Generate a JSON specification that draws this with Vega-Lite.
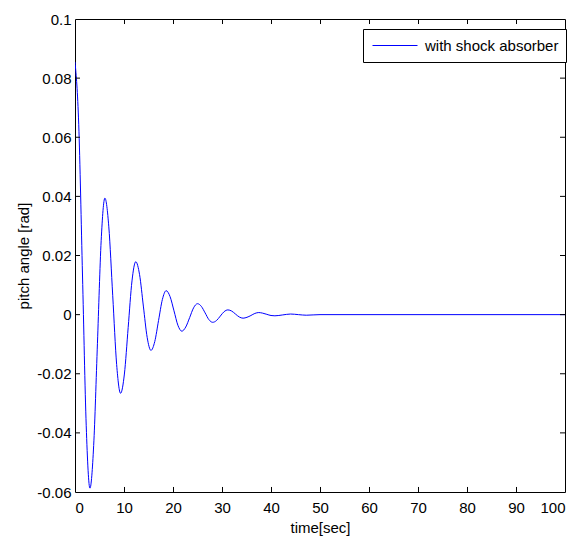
{
  "$schema": "https://vega.github.io/schema/vega-lite/v6.json",
  "width": 490,
  "height": 473,
  "autosize": "none",
  "padding": {"left": 75, "top": 19, "right": 20, "bottom": 49},
  "background": "white",
  "config": {
    "view": {"stroke": "black", "strokeWidth": 1},
    "font": "Liberation Sans",
    "axis": {
      "grid": false,
      "domain": false,
      "labelColor": "black",
      "titleColor": "black",
      "labelFont": "Liberation Sans",
      "titleFont": "Liberation Sans",
      "labelFontSize": 15,
      "titleFontSize": 15,
      "titleFontWeight": "normal"
    }
  },
  "datasets": {
    "curve": [
      {"t": 0, "v": 0.0855},
      {"t": 0.76, "v": 0.0644},
      {"t": 1.53, "v": 0.0134},
      {"t": 2.29, "v": -0.0376},
      {"t": 3.05, "v": -0.0587},
      {"t": 3.81, "v": -0.0443},
      {"t": 4.58, "v": -0.0097},
      {"t": 5.34, "v": 0.025},
      {"t": 6.1, "v": 0.0394},
      {"t": 6.9, "v": 0.0297},
      {"t": 7.7, "v": 0.0064},
      {"t": 8.5, "v": -0.0169},
      {"t": 9.3, "v": -0.0266},
      {"t": 10.08, "v": -0.0201},
      {"t": 10.85, "v": -0.0044},
      {"t": 11.63, "v": 0.0114},
      {"t": 12.4, "v": 0.0179},
      {"t": 13.18, "v": 0.0135},
      {"t": 13.95, "v": 0.0029},
      {"t": 14.73, "v": -0.0077},
      {"t": 15.5, "v": -0.0121},
      {"t": 16.28, "v": -0.0091},
      {"t": 17.05, "v": -0.002},
      {"t": 17.83, "v": 0.0051},
      {"t": 18.6, "v": 0.0081},
      {"t": 19.4, "v": 0.0061},
      {"t": 20.2, "v": 0.0013},
      {"t": 21.0, "v": -0.0036},
      {"t": 21.8, "v": -0.0056},
      {"t": 22.6, "v": -0.0042},
      {"t": 23.4, "v": -0.001},
      {"t": 24.2, "v": 0.0023},
      {"t": 25.0, "v": 0.0037},
      {"t": 25.78, "v": 0.0028},
      {"t": 26.55, "v": 0.0006},
      {"t": 27.33, "v": -0.0017},
      {"t": 28.1, "v": -0.0026},
      {"t": 28.88, "v": -0.002},
      {"t": 29.65, "v": -0.0005},
      {"t": 30.43, "v": 0.001},
      {"t": 31.2, "v": 0.0016},
      {"t": 31.98, "v": 0.0012},
      {"t": 32.75, "v": 0.0002},
      {"t": 33.53, "v": -0.0008},
      {"t": 34.3, "v": -0.0012},
      {"t": 35.1, "v": -0.0009},
      {"t": 35.9, "v": -0.0003},
      {"t": 36.7, "v": 0.0004},
      {"t": 37.5, "v": 0.0007},
      {"t": 38.3, "v": 0.0005},
      {"t": 39.15, "v": 0.0001},
      {"t": 40.0, "v": -0.0003},
      {"t": 40.8, "v": -0.0004},
      {"t": 42.4, "v": -0.0001},
      {"t": 44.0, "v": 0.0002},
      {"t": 45.6, "v": 0},
      {"t": 47.2, "v": -0.0002},
      {"t": 50, "v": 0},
      {"t": 100, "v": 0}
    ],
    "xticks": [
      {"tx": 10}, {"tx": 20}, {"tx": 30}, {"tx": 40}, {"tx": 50},
      {"tx": 60}, {"tx": 70}, {"tx": 80}, {"tx": 90}
    ],
    "yticks": [
      {"ty": -0.04}, {"ty": -0.02}, {"ty": 0}, {"ty": 0.02},
      {"ty": 0.04}, {"ty": 0.06}, {"ty": 0.08}
    ]
  },
  "layer": [
    {
      "data": {"name": "curve"},
      "mark": {"type": "line", "strokeWidth": 1, "interpolate": "monotone", "clip": true},
      "encoding": {
        "x": {
          "field": "t", "type": "quantitative",
          "scale": {"domain": [0, 100], "nice": false, "zero": false},
          "axis": {"orient": "bottom", "values": [0,10,20,30,40,50,60,70,80,90,100], "ticks": false, "title": "time[sec]", "labelPadding": 8, "titlePadding": 5}
        },
        "y": {
          "field": "v", "type": "quantitative",
          "scale": {"domain": [-0.06, 0.1], "nice": false, "zero": false},
          "axis": {"orient": "left", "values": [-0.06,-0.04,-0.02,0,0.02,0.04,0.06,0.08,0.1], "ticks": false, "labelExpr": "replace(format(datum.value, '.2~f'), '−', '-')", "title": "pitch angle [rad]", "labelPadding": 4, "titlePadding": 5}
        },
        "color": {
          "datum": "with shock absorber",
          "scale": {"range": ["#0000ff"]},
          "legend": {
            "orient": "none", "legendX": 288, "legendY": 10, "title": null,
            "strokeColor": "black", "fillColor": "white", "padding": 7,
            "clipHeight": 19,
            "symbolType": "stroke", "symbolSize": 2025, "symbolStrokeWidth": 1, "symbolOffset": 2,
            "labelFontSize": 15, "labelFont": "Liberation Sans", "labelColor": "black", "labelOffset": 7
          }
        }
      }
    },
    {
      "data": {"name": "xticks"},
      "mark": {"type": "rule", "color": "black", "strokeWidth": 1, "xOffset": 0.5},
      "encoding": {
        "x": {"field": "tx", "type": "quantitative", "scale": {"domain": [0, 100], "nice": false, "zero": false}, "axis": null},
        "y": {"datum": -0.06, "type": "quantitative", "scale": {"domain": [-0.06, 0.1], "nice": false, "zero": false}, "axis": null},
        "y2": {"datum": -0.0583}
      }
    },
    {
      "data": {"name": "xticks"},
      "mark": {"type": "rule", "color": "black", "strokeWidth": 1, "xOffset": 0.5},
      "encoding": {
        "x": {"field": "tx", "type": "quantitative", "scale": {"domain": [0, 100], "nice": false, "zero": false}, "axis": null},
        "y": {"datum": 0.1, "type": "quantitative", "scale": {"domain": [-0.06, 0.1], "nice": false, "zero": false}, "axis": null},
        "y2": {"datum": 0.0983}
      }
    },
    {
      "data": {"name": "yticks"},
      "mark": {"type": "rule", "color": "black", "strokeWidth": 1},
      "encoding": {
        "y": {"field": "ty", "type": "quantitative", "scale": {"domain": [-0.06, 0.1], "nice": false, "zero": false}, "axis": null},
        "x": {"datum": 0, "type": "quantitative", "scale": {"domain": [0, 100], "nice": false, "zero": false}, "axis": null},
        "x2": {"datum": 1.02}
      }
    },
    {
      "data": {"name": "yticks"},
      "mark": {"type": "rule", "color": "black", "strokeWidth": 1},
      "encoding": {
        "y": {"field": "ty", "type": "quantitative", "scale": {"domain": [-0.06, 0.1], "nice": false, "zero": false}, "axis": null},
        "x": {"datum": 100, "type": "quantitative", "scale": {"domain": [0, 100], "nice": false, "zero": false}, "axis": null},
        "x2": {"datum": 98.98}
      }
    }
  ],
  "resolve": {"axis": {"x": "independent", "y": "independent"}}
}
